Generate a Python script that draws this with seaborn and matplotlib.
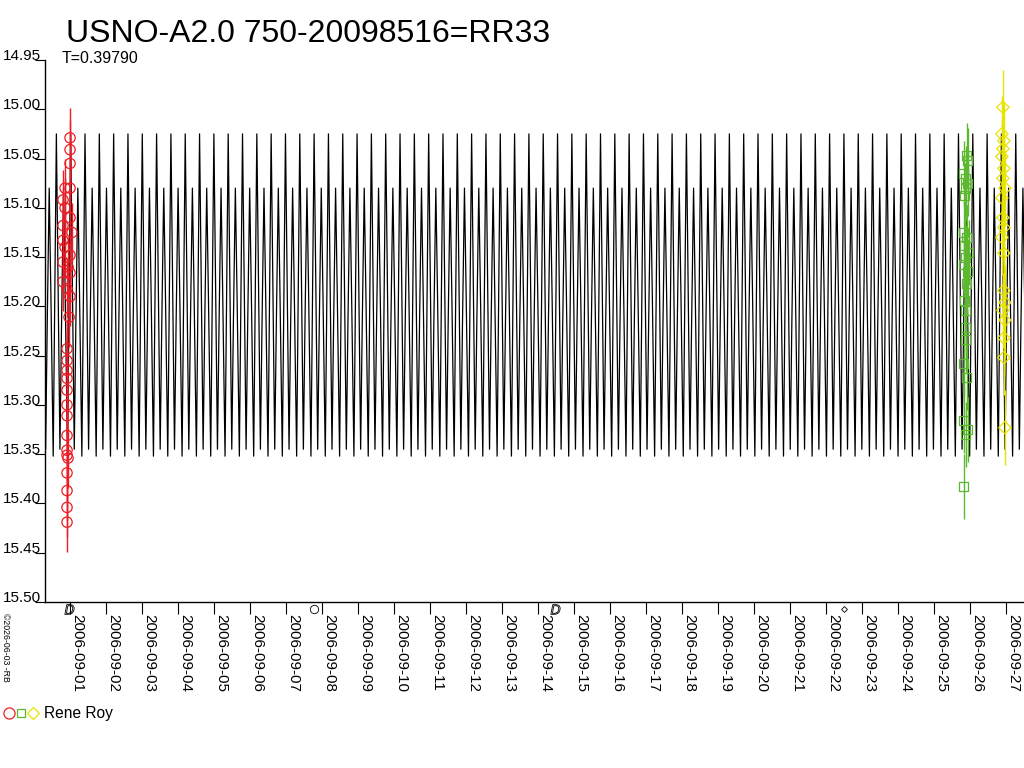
import numpy as np
import pandas as pd
import matplotlib
matplotlib.use('Agg')
import matplotlib.pyplot as plt
import matplotlib.dates as mdates
from matplotlib.lines import Line2D
import seaborn as sns

title = 'USNO-A2.0 750-20098516=RR33'
period_text = 'T=0.39790'
observer = 'Rene Roy'
stamp = '©2026-06-03 -RB'

# model light curve: period (days), epoch of phase 0, and one cycle (phase, mag)
period = 0.39790
epoch = pd.Timestamp('2006-09-10 01:46')
model_phase = [0.00, 0.10, 0.22, 0.32, 0.47, 0.58, 0.72, 0.84, 1.00]
model_mag = [15.352, 15.20, 15.025, 15.15, 15.345, 15.22, 15.08, 15.19, 15.352]

# observations, days after 2006-09-01 00:00 UT
red_day = [-0.008, -0.008, -0.008, -0.147, -0.008, -0.203, -0.147, -0.008, -0.203, 0.047,
           -0.203, -0.147, -0.008, -0.203, -0.064, -0.008, -0.203, -0.092, -0.008, -0.036,
           -0.092, -0.092, -0.092, -0.092, -0.092, -0.092, -0.092, -0.092, -0.092, -0.092,
           -0.064, -0.092, -0.092, -0.092, -0.092]
red_mag = [15.029, 15.041, 15.055, 15.080, 15.080, 15.092, 15.100, 15.110, 15.118, 15.125,
           15.133, 15.140, 15.148, 15.155, 15.160, 15.166, 15.175, 15.182, 15.190, 15.211,
           15.243, 15.255, 15.265, 15.273, 15.285, 15.300, 15.311, 15.331, 15.346, 15.351,
           15.354, 15.369, 15.387, 15.404, 15.419]
red_err = 0.030

green_day = [24.915, 24.942, 24.832, 24.887, 24.942, 24.887, 24.860, 24.832, 24.915, 24.860,
             24.970, 24.887, 24.832, 24.942, 24.915, 24.860, 24.887, 24.887, 24.887, 24.832,
             24.915, 24.832, 24.942, 24.887, 24.832]
green_mag = [15.047, 15.052, 15.065, 15.070, 15.075, 15.080, 15.088, 15.125, 15.130, 15.138,
             15.145, 15.150, 15.158, 15.165, 15.177, 15.194, 15.204, 15.221, 15.234, 15.258,
             15.272, 15.316, 15.325, 15.330, 15.383]
green_err = 0.033

yellow_day = [25.914, 25.886, 25.942, 25.914, 25.886, 25.942, 25.914, 25.970, 25.886, 25.914,
              25.942, 25.886, 25.942, 25.942, 25.970, 25.914, 25.970, 25.942, 25.942, 25.970]
yellow_mag = [14.998, 15.025, 15.032, 15.040, 15.048, 15.060, 15.070, 15.080, 15.090, 15.110,
              15.120, 15.130, 15.146, 15.184, 15.196, 15.204, 15.214, 15.232, 15.252, 15.323]
yellow_err = 0.038

# moon phases shown under the time axis
moon_time = ['2006-08-31 22:57', '2006-09-07 18:42', '2006-09-14 11:15', '2006-09-22 11:45']
moon_mark = ['$D$', 'o', '$D$', 'D']
moon_size = [7, 6, 7, 3]

y_ticks = [14.95, 15.00, 15.05, 15.10, 15.15, 15.20, 15.25, 15.30, 15.35, 15.40, 15.45, 15.50]

RED = '#ee1c24'
GREEN = '#5cb82e'
YELLOW = '#e8e400'

sns.set_style('white')
plt.rcParams['font.family'] = ['Liberation Sans', 'DejaVu Sans']
plt.rcParams['text.color'] = 'black'
plt.rcParams['xtick.color'] = 'black'
plt.rcParams['ytick.color'] = 'black'

base = pd.Timestamp('2006-09-01')
t_start = base - pd.Timedelta(hours=16.9)
t_end = base + pd.Timedelta(days=26.5)

# repeat the single model cycle over the plotted time span
n0 = int(np.floor((t_start - epoch) / pd.Timedelta(days=period))) - 1
n1 = int(np.ceil((t_end - epoch) / pd.Timedelta(days=period))) + 1
cyc = np.arange(n0, n1)
ph = (cyc[:, None] + np.array(model_phase)[None, :]).ravel()
model = pd.DataFrame({
    't': epoch + pd.to_timedelta(ph * period, unit='D'),
    'mag': np.tile(model_mag, len(cyc)),
})

fig = plt.figure(figsize=(10.24, 7.68), dpi=100)
ax = fig.add_axes([45 / 1024, 1 - 602 / 768, 1 - 45 / 1024, 542 / 768])

sns.lineplot(data=model, x='t', y='mag', color='black', lw=0.9, estimator=None, sort=False, ax=ax)

groups = [
    (red_day, red_mag, red_err, RED, 'o', 55),
    (green_day, green_mag, green_err, GREEN, 's', 42),
    (yellow_day, yellow_mag, yellow_err, YELLOW, 'D', 40),
]
for day, mag, err, col, mk, sz in groups:
    t = base + pd.to_timedelta(day, unit='D')
    mag = np.array(mag)
    ax.vlines(t, mag - err, mag + err, color=col, lw=1)
    sns.scatterplot(x=t, y=mag, marker=mk, s=sz, fc='none', ec=col, linewidth=0.9, ax=ax, zorder=3)

ax.set_xlim(t_start, t_end)
ax.set_ylim(15.50, 14.95)
ax.set_yticks(y_ticks)
ax.yaxis.set_major_formatter(plt.FormatStrFormatter('%.2f'))
ax.xaxis.set_major_locator(mdates.DayLocator())
ax.xaxis.set_major_formatter(mdates.DateFormatter('%Y-%m-%d'))
ax.set_xlabel('')
ax.set_ylabel('')

for s in ['top', 'right']:
    ax.spines[s].set_visible(False)
for s in ['left', 'bottom']:
    ax.spines[s].set_color('black')
    ax.spines[s].set_linewidth(1)

ax.tick_params(axis='y', direction='out', length=7.5, width=0.8, pad=-4.5, labelsize=11, left=True)
ax.tick_params(axis='x', direction='out', length=8.5, width=0.8, pad=0.5, labelsize=11, bottom=True)
plt.setp(ax.get_yticklabels(), va='baseline')
plt.setp(ax.get_xticklabels(), rotation=270, ha='left', va='top')

# moon phase symbols just under the axis
for mt, mk, ms in zip(moon_time, moon_mark, moon_size):
    ax.plot([pd.Timestamp(mt)], [-0.012], marker=mk, ms=ms, mfc='none', mec='black', mew=0.6,
            color='black', transform=ax.get_xaxis_transform(), clip_on=False)

fig.text(66 / 1024, 1 - 42 / 768, title, fontsize=23, va='baseline', ha='left')
fig.text(62 / 1024, 1 - 63 / 768, period_text, fontsize=11.5, va='baseline', ha='left')
fig.text(1 / 1024, 1 - 613 / 768, stamp, fontsize=6.3, rotation=270, va='top', ha='left')

# legend row at the bottom left
leg_y = 1 - 713 / 768
fig.add_artist(Line2D([9 / 1024], [leg_y], marker='o', ms=8, mfc='none', mec=RED, mew=0.9, ls=''))
fig.add_artist(Line2D([21 / 1024], [leg_y], marker='s', ms=6, mfc='none', mec=GREEN, mew=0.9, ls=''))
fig.add_artist(Line2D([33 / 1024], [leg_y], marker='D', ms=6, mfc='none', mec=YELLOW, mew=0.9, ls=''))
fig.text(44 / 1024, 1 - 718 / 768, observer, fontsize=11.2, va='baseline', ha='left')

fig.savefig('out.png', dpi=100)
